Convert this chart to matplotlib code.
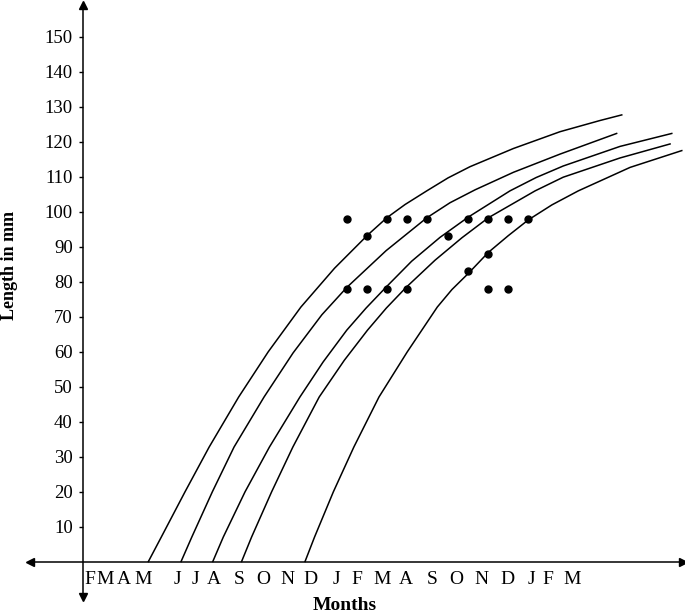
import matplotlib
matplotlib.use("Agg")
import matplotlib.pyplot as plt

plt.rcParams['font.family'] = ['Liberation Serif', 'DejaVu Serif']

# time axis in months (0 = y axis), length in mm
c1_t = [2.70, 3.23, 4.20, 5.19, 6.40, 7.61, 8.95, 10.33, 11.69, 12.47, 13.22, 14.11, 14.98, 15.88, 17.66, 19.57, 21.21, 22.10]
c1_l = [0, 7.0, 19.9, 32.7, 47.0, 59.9, 72.7, 83.8, 93.3, 98.2, 102.0, 105.9, 109.6, 112.8, 118.0, 122.8, 126.0, 127.6]

c2_t = [4.04, 4.48, 5.32, 6.21, 7.44, 8.63, 9.81, 10.83, 12.44, 14.11, 15.06, 16.09, 17.66, 19.57, 21.89]
c2_l = [0, 7.0, 19.9, 32.7, 47.0, 59.6, 70.5, 78.3, 88.8, 98.2, 102.5, 106.2, 111.2, 116.4, 122.3]

c3_t = [5.34, 5.77, 6.66, 7.66, 8.91, 9.86, 10.83, 11.62, 12.47, 13.49, 14.65, 15.81, 17.52, 18.59, 19.70, 22.03, 24.15]
c3_l = [0, 7.0, 19.9, 32.7, 47.0, 57.0, 66.1, 72.4, 78.6, 85.8, 92.6, 98.4, 105.9, 109.7, 113.0, 118.6, 122.3]

c4_t = [6.52, 6.93, 7.75, 8.62, 9.70, 10.73, 11.68, 12.45, 13.26, 14.45, 15.55, 16.63, 18.55, 19.70, 22.03, 24.08]
c4_l = [0, 7.0, 19.9, 32.7, 47.0, 57.5, 66.1, 72.4, 78.3, 86.1, 92.5, 98.2, 105.9, 109.8, 115.3, 119.3]

c5_t = [9.12, 9.51, 10.28, 11.12, 12.15, 13.31, 14.54, 15.14, 15.81, 16.63, 17.45, 18.27, 19.24, 20.32, 22.44, 24.56]
c5_l = [0, 7.0, 19.9, 32.7, 47.0, 59.9, 72.7, 77.7, 82.3, 88.3, 93.1, 97.6, 101.9, 105.9, 112.6, 117.4]

curves_t = [c1_t, c2_t, c3_t, c4_t, c5_t]
curves_l = [c1_l, c2_l, c3_l, c4_l, c5_l]

# observed points
obs_t = [10.83, 12.47, 13.30, 14.12, 15.81, 16.63, 17.45, 18.27,
         11.65, 14.99,
         16.63,
         15.81,
         10.83, 11.65, 12.47, 13.30, 16.63, 17.45]
obs_l = [98, 98, 98, 98, 98, 98, 98, 98,
         93, 93,
         88,
         83,
         78, 78, 78, 78, 78, 78]

months = ['F', 'M', 'A', 'M', 'J', 'J', 'A', 'S', 'O', 'N', 'D',
          'J', 'F', 'M', 'A', 'S', 'O', 'N', 'D', 'J', 'F', 'M']
month_pos = [0.31, 0.92, 1.70, 2.48, 3.91, 4.61, 5.39, 6.41, 7.40, 8.38, 9.36,
             10.39, 11.25, 12.27, 13.26, 14.32, 15.31, 16.37, 17.40, 18.38, 19.08, 20.06]
yticks = list(range(10, 151, 10))

fig = plt.figure(figsize=(6.85, 6.14), dpi=100)
ax = fig.add_axes([30 / 685, 17 / 614, 653 / 685, 592 / 614])

for t, l in zip(curves_t, curves_l):
    ax.plot(t, l, color='black', lw=1.1, clip_on=False)

ax.plot(obs_t, obs_l, 'o', color='black', ms=5)

ax.set_xlim(-2.152, 24.61)
ax.set_ylim(-10.14, 159.0)

ax.spines['left'].set_position(('data', 0))
ax.spines['bottom'].set_position(('data', 0))
ax.spines['top'].set_visible(False)
ax.spines['right'].set_visible(False)
ax.spines['left'].set_linewidth(1.1)
ax.spines['bottom'].set_linewidth(1.1)

# arrow heads on both ends of both axes
ax.plot(1, 0, '>k', ms=6, transform=ax.get_yaxis_transform(), clip_on=False)
ax.plot(0, 0, '<k', ms=6, transform=ax.get_yaxis_transform(), clip_on=False)
ax.plot(0, 1, '^k', ms=6, transform=ax.get_xaxis_transform(), clip_on=False)
ax.plot(0, 0, 'vk', ms=6, transform=ax.get_xaxis_transform(), clip_on=False)

ax.set_yticks(yticks)
ax.set_yticklabels([str(v) for v in yticks], fontsize=13.5)
ax.tick_params(axis='y', direction='out', length=3, width=1, pad=4)

ax.set_xticks(month_pos)
ax.set_xticklabels(months, fontsize=14)
ax.tick_params(axis='x', length=0, pad=7)

ax.set_ylabel('Length in mm', fontsize=13, fontweight='bold')
ax.yaxis.set_label_coords(-12 / 653, (597 - 265) / 592)
ax.set_xlabel('Months', fontsize=14, fontweight='bold')
ax.xaxis.set_label_coords((345 - 30) / 653, 0.0)

fig.savefig('out.png', dpi=100)
